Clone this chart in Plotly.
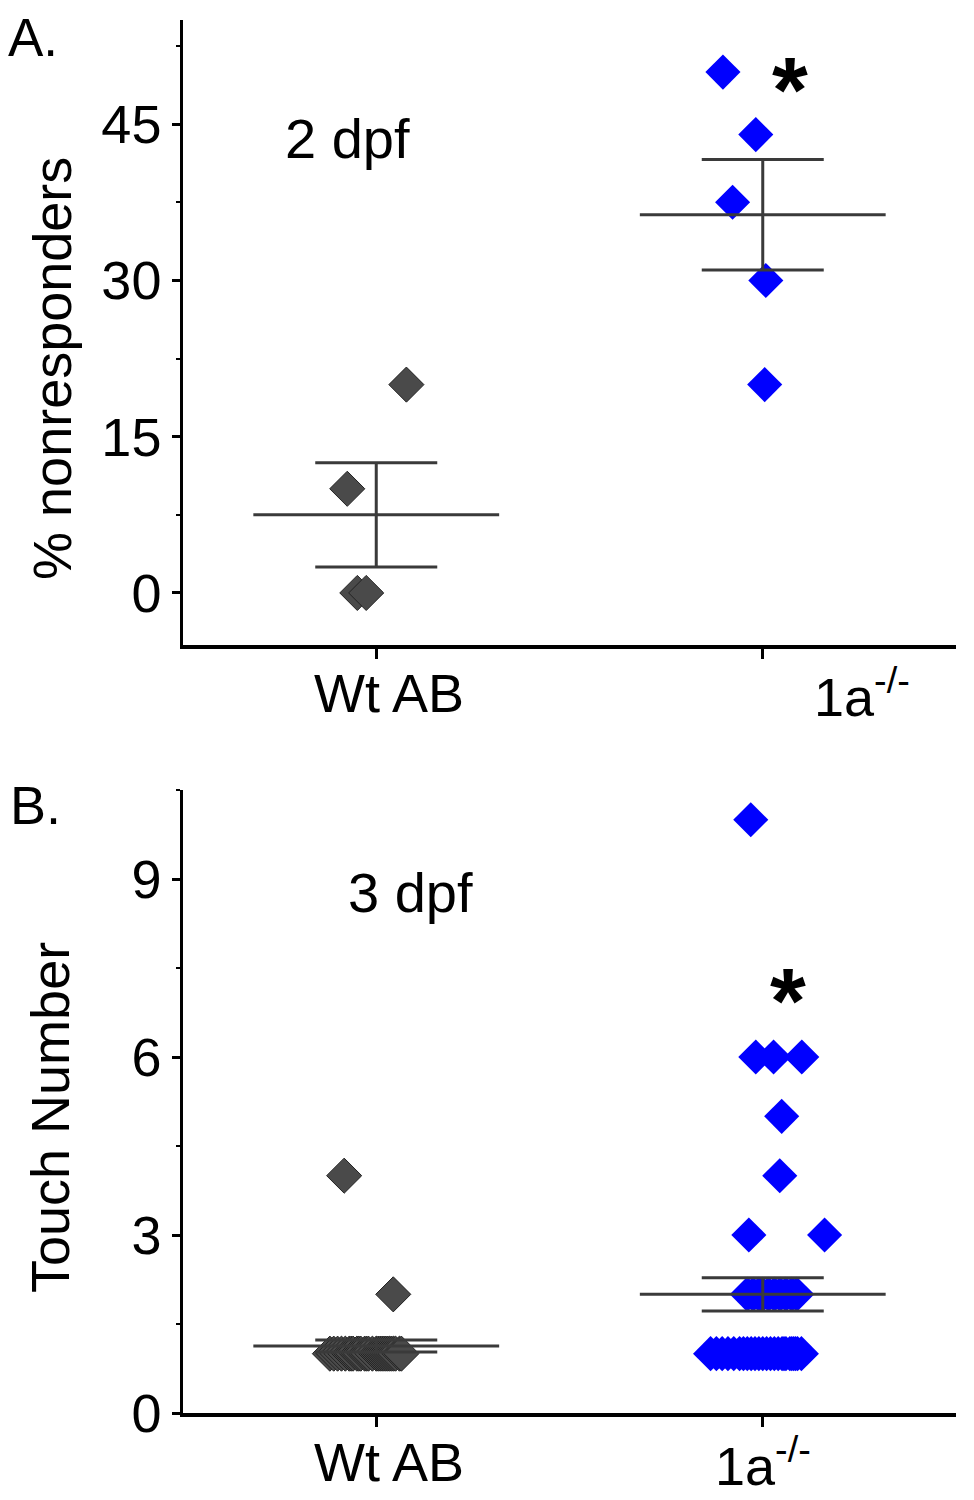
import plotly.graph_objects as go
from plotly.subplots import make_subplots

FONT = "Arial, Liberation Sans, sans-serif"
WT_COLOR = "#4a4a4a"
MUT_COLOR = "#0000ff"
BAR_COLOR = "#3a3a3a"

groups = ["Wt AB", "1a<sup>-/-</sup>"]
group_pos = [1, 2]

# panel A: 2 dpf, % nonresponders
a_wt = [20, 10, 0, 0]
a_wt_jitter = [0.078, -0.075, -0.049, -0.026]
a_mut = [50, 44, 37.5, 30, 20]
a_mut_jitter = [-0.103, -0.018, -0.078, 0.008, 0.005]
a_mean = [7.5, 36.3]
a_sem = [5.0, 5.3]

# panel B: 3 dpf, touch number
b_wt = [4, 2,
        1, 1, 1, 1, 1, 1, 1, 1, 1, 1, 1, 1, 1, 1,
        1, 1, 1, 1, 1, 1, 1, 1, 1, 1, 1, 1, 1, 1]
b_wt_jitter = [-0.083, 0.044,
               -0.12, -0.11, -0.10, -0.09, -0.08, -0.07, -0.065, -0.06, -0.05, -0.045,
               -0.04, -0.03, -0.025, -0.02, -0.01, 0.0, 0.005, 0.01, 0.015, 0.02,
               0.025, 0.03, 0.035, 0.04, 0.045, 0.05, 0.06, 0.065]
b_mut = [10, 6, 6, 6, 5, 4, 3, 3,
         2, 2, 2, 2, 2, 2, 2, 2, 2, 2,
         1, 1, 1, 1, 1, 1, 1, 1, 1, 1, 1, 1, 1, 1,
         1, 1, 1, 1, 1, 1, 1, 1, 1, 1, 1, 1, 1]
b_mut_jitter = [-0.031, -0.018, 0.028, 0.101, 0.049, 0.044, -0.036, 0.16,
                -0.04, -0.025, -0.01, 0.0, 0.015, 0.03, 0.045, 0.06, 0.075, 0.088,
                -0.135, -0.12, -0.105, -0.09, -0.075, -0.06, -0.05, -0.04, -0.03,
                -0.02, -0.01, 0.0, 0.01, 0.02, 0.03, 0.04, 0.05, 0.055, 0.06,
                0.07, 0.075, 0.08, 0.085, 0.09, 0.1]
b_mean = [1.13, 2.0]
b_sem = [0.1, 0.28]

MEAN_HALF = 0.318   # half length of the mean line, category units
CAP_PX = 61         # half width of the SEM caps, px

fig = make_subplots(rows=2, cols=1, vertical_spacing=0.104)


def add_panel(row, wt, wt_jit, mut, mut_jit, means, sems):
    fig.add_trace(go.Scatter(
        x=[group_pos[0] + j for j in wt_jit], y=wt, mode="markers",
        marker=dict(symbol="diamond", size=27, color=WT_COLOR,
                    line=dict(color="#222222", width=1)),
        showlegend=False), row=row, col=1)
    fig.add_trace(go.Scatter(
        x=[group_pos[1] + j for j in mut_jit], y=mut, mode="markers",
        marker=dict(symbol="diamond", size=27, color=MUT_COLOR,
                    line=dict(color=MUT_COLOR, width=0)),
        showlegend=False), row=row, col=1)
    for pos, m, s in zip(group_pos, means, sems):
        fig.add_trace(go.Scatter(
            x=[pos - MEAN_HALF, pos + MEAN_HALF], y=[m, m], mode="lines",
            line=dict(color=BAR_COLOR, width=3), showlegend=False),
            row=row, col=1)
        fig.add_trace(go.Scatter(
            x=[pos], y=[m], mode="markers", marker=dict(size=1, opacity=0),
            error_y=dict(type="data", array=[s], symmetric=True,
                         color=BAR_COLOR, thickness=3, width=CAP_PX),
            showlegend=False), row=row, col=1)


add_panel(1, a_wt, a_wt_jitter, a_mut, a_mut_jitter, a_mean, a_sem)
add_panel(2, b_wt, b_wt_jitter, b_mut, b_mut_jitter, b_mean, b_sem)

axis_common = dict(showgrid=False, zeroline=False, showline=True,
                   automargin=False, linecolor="black", ticks="outside",
                   tickcolor="black",
                   tickfont=dict(family=FONT, size=54, color="black"))

# x tick labels are drawn as annotations below (offset like the original)
fig.update_xaxes(range=[0.5, 2.5], tickvals=group_pos, showticklabels=False,
                 linewidth=4, ticklen=10, tickwidth=2.5, **axis_common)
fig.update_yaxes(linewidth=2.5, ticklen=8, tickwidth=2.5, **axis_common)
fig.update_yaxes(range=[-5, 55], tickvals=[0, 15, 30, 45],
                 minor=dict(tickvals=[7.5, 22.5, 37.5, 52.5], ticklen=4,
                            tickcolor="black", tickwidth=2, ticks="outside"),
                 domain=[0.5513, 1.0], row=1, col=1)
fig.update_yaxes(range=[0, 10.5], tickvals=[0, 3, 6, 9],
                 minor=dict(tickvals=[1.5, 4.5, 7.5, 10.5], ticklen=4,
                            tickcolor="black", tickwidth=2, ticks="outside"),
                 domain=[0.0, 0.4472], row=2, col=1)


def note(text, x, y, xref, yref, size=54, angle=0, bold=False):
    if bold:
        text = "<b>" + text + "</b>"
    fig.add_annotation(text=text, x=x, y=y, xref=xref, yref=yref,
                       showarrow=False, textangle=angle, borderpad=0,
                       font=dict(family=FONT, size=size, color="black"),
                       xanchor="center", yanchor="middle")


note("A.", -0.194, 0.9875, "paper", "paper", size=53)
note("B.", -0.191, 0.4365, "paper", "paper")
note("% nonresponders", -0.1695, 0.7502, "paper", "paper", angle=-90)
note("Touch Number", -0.172, 0.2118, "paper", "paper", angle=-90)
note("2 dpf", 0.925, 43.6, "x", "y", size=56)
note("3 dpf", 1.088, 8.77, "x2", "y2", size=56)
note("*", 2.07, 48.3, "x", "y", size=92, bold=True)
note("*", 2.066, 6.95, "x2", "y2", size=92, bold=True)
# category labels (top panel's labels sit offset from the ticks in the original)
note(groups[0], 1.034, 0.5169, "x", "paper")
note(groups[1], 2.257, 0.5169, "x", "paper")
note(groups[0], 1.034, -0.0352, "x2", "paper")
note(groups[1], 2.0, -0.0352, "x2", "paper")

# page body adds 8px, so margins are shifted to compensate
fig.update_layout(
    width=974, height=1500,
    margin=dict(l=175, r=26, t=12, b=95, autoexpand=False),
    plot_bgcolor="white", paper_bgcolor="white",
    font=dict(family=FONT, color="black"),
    showlegend=False,
)

fig.write_html("out.html")
